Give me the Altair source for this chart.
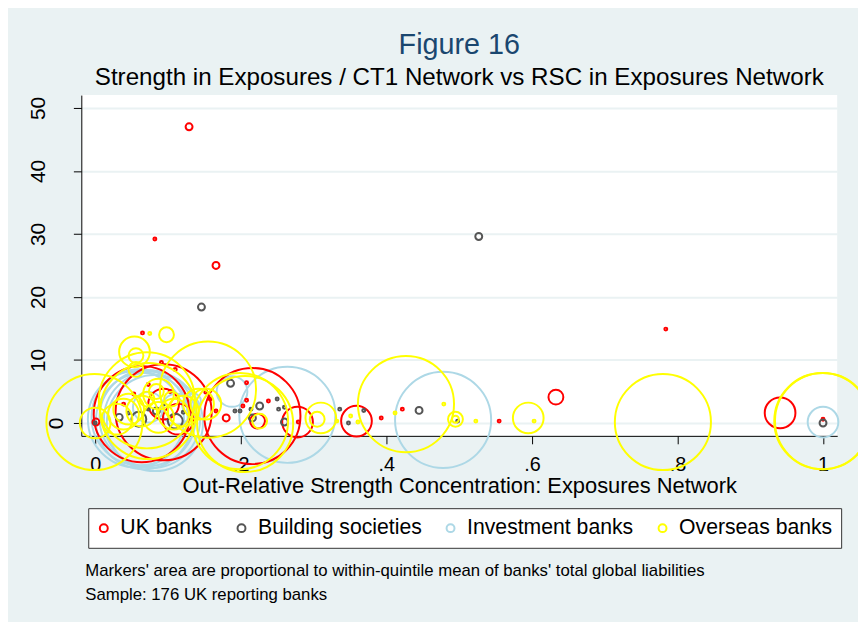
import altair as alt
import pandas as pd

groups = ["UK banks", "Building societies", "Investment banks", "Overseas banks"]
group_colors = ["#FF0000", "#555555", "#ADD8E6", "#FFFF00"]
# drawing order of the groups (light blue underneath, yellow on top)
draw_order = [1, 2, 0, 3]
# within-quintile mean of total global liabilities (relative units), quintiles 1..5
quintile_mean_liab = [0.09, 0.49, 2.25, 9.6, 94.1]

# UK banks
uk_rsc = [0.129, 0.082, 0.166, 0.065, 0.784, 0.633, 0.941, 1.000, 0.555, 0.422,
          0.393, 0.359, 0.278, 0.279, 0.216, 0.223, 0.180, 0.208, 0.208, 0.238,
          0.064, 0.094, 0.094, 0.114, 0.091, 0.110, 0.053, 0.073, 0.039, 0.103,
          0.152, 0.158, 0.166, 0.203, 0.001]
uk_str = [47.0, 29.2, 25.0, 14.3, 14.9, 4.1, 1.6, 0.6, 0.3, 2.2,
          0.8, 0.3, 0.15, 0.15, 1.1, 0.3, 0.8, 6.4, 3.6, 3.5,
          1.4, 1.7, 3.0, 0.6, 9.6, 8.5, 4.6, 6.1, 3.0, 5.0,
          4.9, 3.8, 1.9, 2.7, 0.15]
uk_q = [2, 1, 2, 1, 1, 3, 4, 1, 1, 1,
        1, 4, 4, 1, 5, 3, 2, 1, 1, 1,
        5, 5, 4, 4, 1, 1, 1, 1, 1, 1,
        1, 1, 1, 1, 2]

# Building societies
bs_rsc = [0.527, 0.146, 0.445, 0.336, 0.348, 0.369, 0.186, 0.192, 0.199, 0.214,
          0.226, 0.216, 0.250, 0.252, 0.260, 0.260, 1.000, 0.498, 0.060, 0.110,
          0.084, 0.033, 0.073, 0.094, 0.121, 0.046, 0.000]
bs_str = [29.6, 18.4, 2.0, 2.2, 0.0, 2.0, 6.3, 1.9, 1.9, 2.2,
          2.7, 0.8, 3.8, 2.2, 2.5, 0.15, 0.0, 0.3, 0.6, 0.3,
          1.9, 0.9, 2.2, 3.0, 1.7, 1.6, 0.0]
bs_q = [2, 2, 2, 1, 1, 1, 2, 1, 1, 1,
        2, 2, 1, 1, 1, 2, 2, 1, 3, 3,
        2, 2, 1, 1, 1, 1, 1]

# Investment banks
ib_rsc = [1.000, 0.478, 0.264, 0.188, 0.056, 0.061, 0.067, 0.072, 0.078, 0.082,
          0.073, 0.112, 0.135]
ib_str = [0.15, 0.5, 1.3, 5.0, 0.6, 0.9, 0.3, 0.8, 0.5, 0.0,
          2.5, 2.2, 3.5]
ib_q = [4, 5, 5, 4, 5, 5, 5, 5, 5, 5,
        4, 4, 3]

# Overseas banks
ob_rsc = [-0.001, 0.000, 0.071, 0.155, 0.199, 0.206, 0.427, 0.780, 1.000, 0.999,
          0.595, 0.603, 0.310, 0.305, 0.495, 0.495, 0.226, 0.054, 0.056, 0.056,
          0.098, 0.075, 0.479, 0.523, 0.412, 0.351, 0.361, 0.332, 0.046, 0.064,
          0.087, 0.108, 0.121, 0.142, 0.152, 0.030, 0.087, 0.071, 0.105, 0.084,
          0.073, 0.039]
ob_str = [0.15, 0.0, 3.6, 5.3, 0.3, -0.15, 3.0, 0.15, 0.3, 0.3,
          0.8, 0.3, 0.8, 0.6, 0.6, 0.6, 0.3, 11.3, 10.7, 8.5,
          14.0, 14.2, 3.0, 0.3, 1.6, 1.1, 0.15, 0.3, 2.2, 1.9,
          4.6, 1.4, 1.9, 3.0, 3.0, 0.6, 0.9, 3.8, 3.8, 5.0,
          1.9, 1.4]
ob_q = [5, 4, 5, 5, 5, 5, 5, 5, 5, 5,
        4, 1, 4, 3, 3, 2, 3, 4, 3, 3,
        3, 1, 1, 1, 1, 1, 1, 1, 4, 4,
        4, 4, 4, 4, 4, 4, 4, 3, 3, 3,
        5, 4]

x_ticks = [0, 0.2, 0.4, 0.6, 0.8, 1]
y_ticks = [0, 10, 20, 30, 40, 50]

notes = [
    "Markers' area are proportional to within-quintile mean of banks' total global liabilities",
    "Sample: 176 UK reporting banks",
]

rows = []
series = [(uk_rsc, uk_str, uk_q), (bs_rsc, bs_str, bs_q), (ib_rsc, ib_str, ib_q), (ob_rsc, ob_str, ob_q)]
for gi, (xs, ys, qs) in enumerate(series):
    for x, y, q in zip(xs, ys, qs):
        rows.append({"group": groups[gi], "gidx": draw_order[gi], "rsc": x, "strength": y,
                     "liab": quintile_mean_liab[q - 1]})
df = pd.DataFrame(rows)

FONT = "Liberation Sans"

points = alt.Chart(df).mark_point(shape="circle", filled=False, strokeWidth=2, opacity=1).encode(
    x=alt.X("rsc:Q",
            scale=alt.Scale(domain=[-0.01906, 1.01947], nice=False, zero=False),
            axis=alt.Axis(values=x_ticks,
                          labelExpr="datum.value == 0 ? '0' : datum.value == 1 ? '1' : '.' + format(datum.value * 10, 'd')",
                          grid=False, tickSize=8, labelPadding=11, labelFlush=False,
                          labelFontSize=20,
                          title="Out-Relative Strength Concentration: Exposures Network",
                          titlePadding=1)),
    y=alt.Y("strength:Q",
            scale=alt.Scale(domain=[-2.04, 52.04], nice=False, zero=False),
            axis=alt.Axis(values=y_ticks, labelAngle=270, grid=True, tickSize=8,
                          labelFlush=False, labelFontSize=21,
                          labelPadding={"condition": {"test": "datum.value == 0", "value": 7}, "value": 25},
                          title=None)),
    color=alt.Color("group:N",
                    scale=alt.Scale(domain=groups, range=group_colors),
                    legend=alt.Legend(orient="none", legendX=7, legendY=417,
                                      direction="horizontal", columns=4, title=None,
                                      labelFontSize=21.4, labelFont=FONT, labelColor="black",
                                      labelOffset=6, symbolOffset=-4, symbolType="circle",
                                      symbolSize=64, symbolStrokeWidth=2, fillColor="white",
                                      strokeColor="#333333", padding=9, columnPadding=20,
                                      labelLimit=400)),
    size=alt.Size("liab:Q", scale=alt.Scale(domain=[0, 100], range=[0, 10000]), legend=None),
    order=alt.Order("gidx:Q"),
)

note_layer = alt.Chart(pd.DataFrame({"note": ["\n".join(notes)]})).mark_text(
    align="left", baseline="top", lineBreak="\n", fontSize=16.9, font=FONT,
    lineHeight=24.5, color="black"
).encode(x=alt.value(4), y=alt.value(472), text="note:N")

chart = alt.layer(points, note_layer).properties(
    width=763, height=344,
    title=alt.TitleParams(text="Figure 16",
                          subtitle="Strength in Exposures / CT1 Network vs RSC in Exposures Network",
                          fontSize=29, font=FONT, fontWeight="normal", color="#1A476F",
                          subtitleFontSize=24.4, subtitleFont=FONT, subtitleColor="black",
                          anchor="middle", frame="group", offset=6, subtitlePadding=6),
    padding={"left": 74, "top": 85, "right": 21, "bottom": 185},
    autosize=alt.AutoSizeParams(type="none"),
    background="#EAF2F3",
).configure_view(fill="white", stroke=None).configure_axis(
    labelFont=FONT, labelColor="black",
    titleFont=FONT, titleFontSize=22.1, titleFontWeight="normal", titleColor="black",
    domainColor="black", domainWidth=1, tickColor="black", tickWidth=1,
    gridColor="#EAF2F3", gridWidth=2,
)

chart.save("out.html", embed_options={"renderer": "svg", "actions": False})
